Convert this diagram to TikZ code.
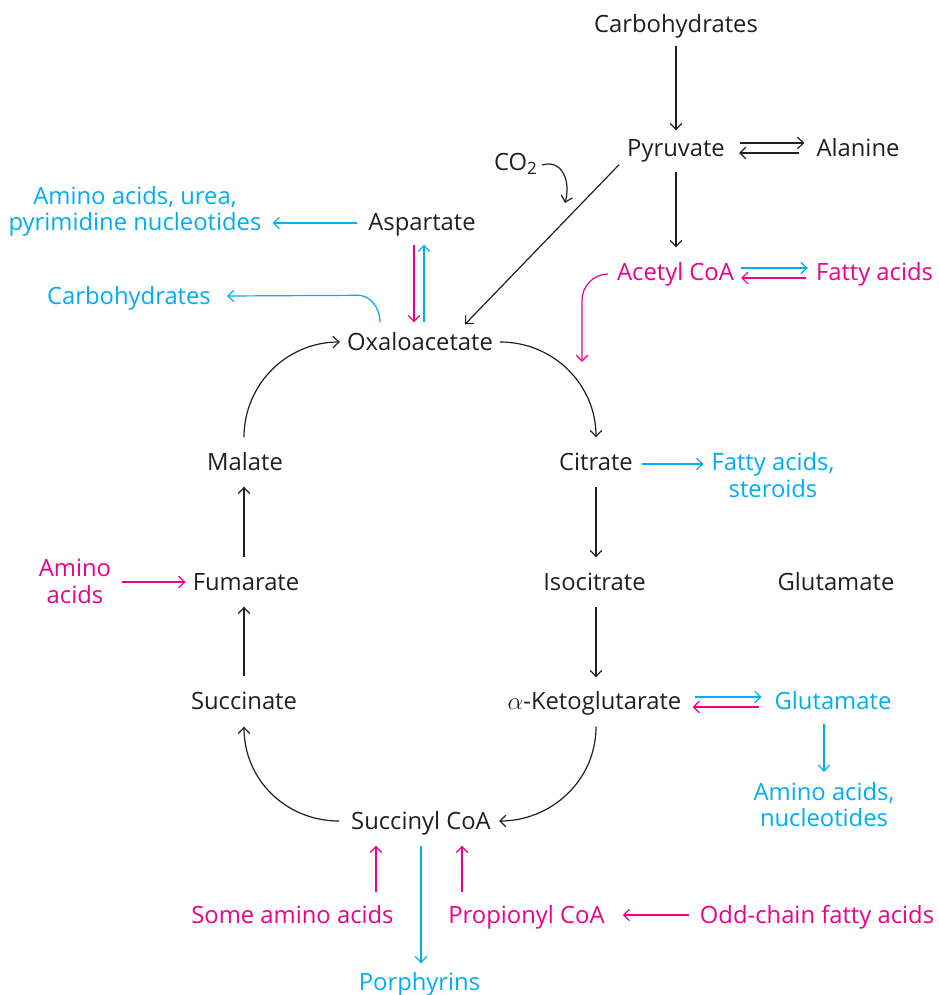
\documentclass[tikz,border=0pt]{standalone}
\usepackage{fontspec}
\setmainfont{Open Sans}
\usetikzlibrary{arrows.meta,calc}
\definecolor{ink}{HTML}{231F20}
\definecolor{cy}{HTML}{00AEEF}
\definecolor{mg}{HTML}{EC008C}
\begin{document}
\begin{tikzpicture}[x=1pt,y=-1pt,
  font=\fontsize{23.8}{26.5}\selectfont,
  lbl/.style={inner sep=0pt,text height=17pt,text depth=0pt,text=ink},
  ml/.style={inner sep=0pt,align=center},
  arr/.style={-{Straight Barb[length=6pt,width=11.5pt]},line width=1.2pt,draw=ink},
  cyarr/.style={arr,draw=cy},
  mgarr/.style={arr,draw=mg}]
\useasboundingbox (0,0) rectangle (938,995);
% nodes
\node[lbl] (carbT) at (676,24) {Carbohydrates};
\node[lbl] (pyr) at (676,148) {Pyruvate};
\node[lbl] (ala) at (858,148) {Alanine};
\node[lbl] (co2) at (515.5,162) {CO\raisebox{-4pt}{\fontsize{17}{17}\selectfont 2}};
\node[lbl] (asp) at (422,222) {Aspartate};
\node[ml,text=cy] (aaU) at (135,211.5) {Amino acids, urea,\\pyrimidine nucleotides};
\node[lbl,text=cy] (carbC) at (129,296) {Carbohydrates};
\node[lbl,text=mg] (acet) at (675.5,272) {Acetyl CoA};
\node[lbl,text=mg] (fa) at (874.5,272) {Fatty acids};
\node[lbl] (oxa) at (420,342) {Oxaloacetate};
\node[lbl] (mal) at (245,462) {Malate};
\node[lbl] (cit) at (596,462) {Citrate};
\node[ml,text=cy] (fas) at (773,475) {Fatty acids,\\steroids};
\node[ml,text=mg] (aaM) at (75,581.5) {Amino\\acids};
\node[lbl] (fum) at (246,582) {Fumarate};
\node[lbl] (iso) at (594.5,582) {Isocitrate};
\node[lbl] (gluK) at (836,582) {Glutamate};
\node[lbl] (sucn) at (244,701) {Succinate};
\node[lbl] (akg) at (594.5,701) {$\alpha$-Ketoglutarate};
\node[lbl,text=cy] (gluC) at (833,701) {Glutamate};
\node[ml,text=cy] (aan) at (824,804.5) {Amino acids,\\nucleotides};
\node[lbl] (succ) at (421,821) {Succinyl CoA};
\node[lbl,text=mg] (sam) at (292.5,915) {Some amino acids};
\node[lbl,text=mg] (prop) at (526.5,915) {Propionyl CoA};
\node[lbl,text=mg] (odd) at (817,915) {Odd-chain fatty acids};
\node[lbl,text=cy] (por) at (419.5,982) {Porphyrins};
\coordinate (co2tip) at (565,203);
\coordinate (acetTip) at (582,362);
\coordinate (s1) at ($(succ.south)+(-45,0)$);
\coordinate (s2) at ($(succ.south)+(41,0)$);
% black connectors
\draw[arr,shorten <=13pt,shorten >=9pt] (carbT) -- (pyr);
\draw[arr,shorten <=15pt,shorten >=12pt] ($(pyr.east)+(0,-5)$) -- ($(ala.west)+(0,-5)$);
\draw[arr,shorten <=17pt,shorten >=14pt] ($(ala.west)+(0,5)$) -- ($(pyr.east)+(0,5)$);
\draw[arr] ($(pyr.south west)+(-8,8)$) -- ($(oxa.north)+(45,-9)$);
\draw[arr] ($(co2.east)+(5,3)$) .. controls +(20,-6) and +(6,-22) .. (co2tip);
\draw[arr,shorten <=15pt,shorten >=16pt] (pyr.south) -- (pyr.south |- acet.north);
\draw[arr] ($(mal.north)+(-1,-16)$) .. controls +(0,-53) and +(-53,0) .. ($(oxa.west)+(-7,0)$);
\draw[arr] ($(oxa.east)+(7,0)$) .. controls +(53,0) and +(0,-53) .. ($(cit.north)+(0,-16)$);
\draw[arr,shorten <=16pt,shorten >=16pt] (cit.south) -- (cit.south |- iso.north);
\draw[arr,shorten <=16pt,shorten >=15pt] (cit.south |- iso.south) -- (cit.south |- akg.north);
\draw[arr] ($(cit.south |- akg.south)+(0,17)$) .. controls +(0,54) and +(52,0) .. ($(succ.east)+(8,0)$);
\draw[arr] ($(succ.west)+(-12,0)$) .. controls +(-53,0) and +(0,53) .. ($(sucn.south)+(0,17)$);
\draw[arr,shorten <=16pt,shorten >=16pt] (sucn.north) -- (sucn.north |- fum.south);
\draw[arr,shorten <=16pt,shorten >=16pt] (sucn.north |- fum.north) -- (sucn.north |- mal.south);
% cyan connectors
\draw[cyarr,shorten <=11pt,shorten >=11pt] ($(asp.west)+(0,1)$) -- ($(asp.west -| aaU.east)+(0,1)$);
\draw[cyarr,shorten <=11pt,shorten >=14pt] ($(asp.south |- oxa.north)+(2,0)$) -- ($(asp.south)+(2,0)$);
\draw[cyarr] ($(oxa.north)+(-40,-11)$) .. controls +(0,-15) and +(12,0) .. ($(oxa.north)+(-62,-38)$) -- ($(carbC.east)+(16,0)$);
\draw[cyarr,shorten <=7pt,shorten >=8pt] ($(acet.east)+(0,-4)$) -- ($(fa.west)+(0,-4)$);
\draw[cyarr,shorten <=9pt,shorten >=8pt] ($(cit.east)+(0,2)$) -- ($(cit.east -| fas.west)+(0,2)$);
\draw[cyarr,shorten <=13pt,shorten >=13pt] ($(akg.east)+(0,-4)$) -- ($(gluC.west)+(0,-4)$);
\draw[cyarr,shorten <=14pt,shorten >=10pt] (aan.north |- gluC.south) -- (aan.north);
\draw[cyarr,shorten <=16pt,shorten >=10pt] (succ.south) -- (succ.south |- por.north);
% magenta connectors
\draw[mgarr,shorten <=10pt,shorten >=7pt] ($(fa.west)+(0,6)$) -- ($(acet.east)+(0,6)$);
\draw[mgarr] ($(acet.west)+(-9,2)$) .. controls +(-14,0) and +(0,-14) .. ($(acetTip)+(0,-62)$) -- (acetTip);
\draw[mgarr,shorten <=14pt,shorten >=11pt] ($(asp.south)+(-8,0)$) -- ($(asp.south |- oxa.north)+(-8,0)$);
\draw[mgarr,shorten <=11pt,shorten >=7pt] (aaM.east |- fum.west) -- (fum.west);
\draw[mgarr,shorten <=15pt,shorten >=11pt] ($(gluC.west)+(0,6)$) -- ($(akg.east)+(0,6)$);
\draw[mgarr,shorten <=14pt,shorten >=16pt] (sam.north -| s1) -- (s1);
\draw[mgarr,shorten <=14pt,shorten >=16pt] (prop.north -| s2) -- (s2);
\draw[mgarr,shorten <=11pt,shorten >=18pt] (odd.west) -- (prop.east);
\end{tikzpicture}
\end{document}
